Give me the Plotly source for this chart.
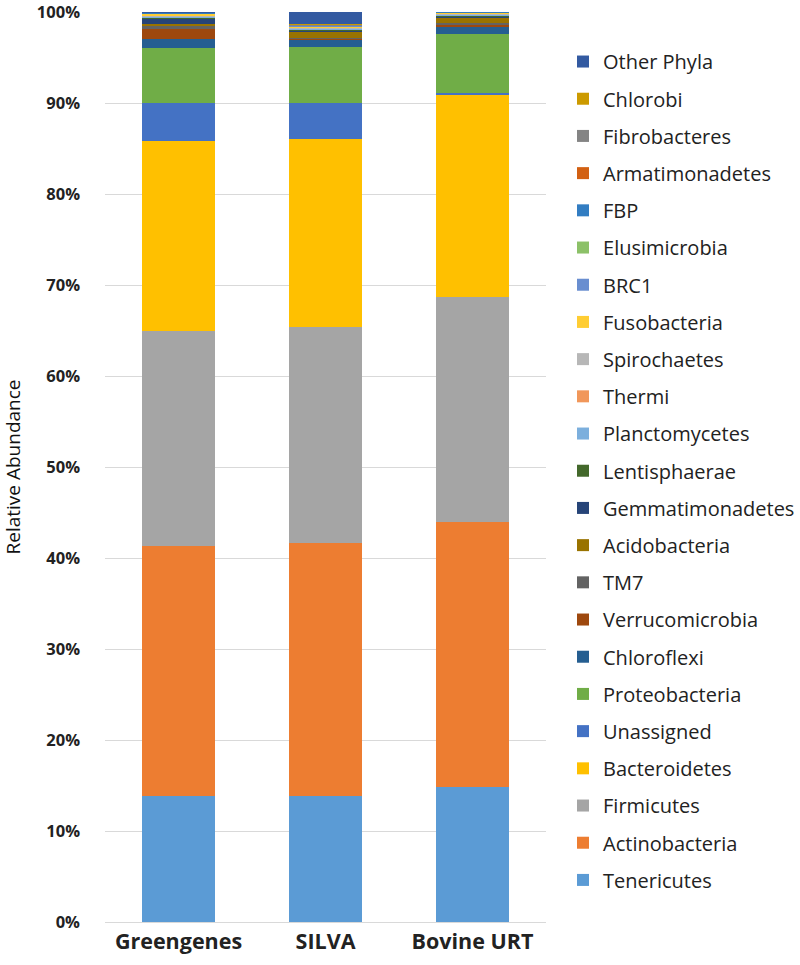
import plotly.graph_objects as go

categories = ["Greengenes", "SILVA", "Bovine URT"]

phyla = ["Tenericutes", "Actinobacteria", "Firmicutes", "Bacteroidetes", "Unassigned",
         "Proteobacteria", "Chloroflexi", "Verrucomicrobia", "TM7", "Acidobacteria",
         "Gemmatimonadetes", "Lentisphaerae", "Planctomycetes", "Thermi", "Spirochaetes",
         "Fusobacteria", "BRC1", "Elusimicrobia", "FBP", "Armatimonadetes",
         "Fibrobacteres", "Chlorobi", "Other Phyla"]

greengenes = [13.8, 27.5, 23.7, 20.8, 4.15, 6.1, 0.95, 1.15, 0.4, 0.15,
              0.55, 0.18, 0.05, 0.05, 0.08, 0.2, 0.03, 0.03, 0.03, 0.03,
              0.03, 0.03, 0.15]
silva = [13.8, 27.8, 23.75, 20.65, 4.05, 6.1, 0.85, 0.05, 0.05, 0.75,
         0.1, 0.15, 0.05, 0.05, 0.1, 0.15, 0.03, 0.03, 0.03, 0.03,
         0.03, 0.03, 1.57]
bovine_urt = [14.8, 29.2, 24.7, 22.2, 0.25, 6.4, 0.75, 0.3, 0.15, 0.6,
              0.15, 0.15, 0.05, 0.05, 0.05, 0.15, 0.02, 0.02, 0.02, 0.02,
              0.02, 0.02, 0.02]

colors = ["#5B9BD5", "#ED7D31", "#A5A5A5", "#FFC000", "#4472C4",
          "#70AD47", "#255E91", "#9E480E", "#636363", "#997300",
          "#264478", "#43682B", "#7CAFDD", "#F1975A", "#B7B7B7",
          "#FFCD33", "#698ED0", "#8CC168", "#327DC2", "#D26012",
          "#848484", "#CC9A00", "#335AA1"]

fig = go.Figure()
n = len(phyla)
for i, name in enumerate(phyla):
    fig.add_trace(go.Bar(
        x=categories,
        y=[greengenes[i] / 100, silva[i] / 100, bovine_urt[i] / 100],
        name=name,
        marker=dict(color=colors[i], line=dict(width=0)),
        legendgroup=name,
        legendrank=n - i,
    ))

fig.update_layout(
    barmode="stack",
    bargap=0.5,
    width=800, height=965,
    margin=dict(l=105, r=254, t=12, b=43, autoexpand=False),
    plot_bgcolor="white", paper_bgcolor="white",
    showlegend=True,
    legend=dict(
        traceorder="grouped",
        tracegroupgap=8.2,
        x=1.0386, xanchor="left",
        y=0.967, yanchor="top",
        font=dict(family="Open Sans", size=20, color="#222222"),
        itemwidth=30,
    ),
    yaxis=dict(
        range=[0, 1],
        tickvals=[i / 10 for i in range(11)],
        tickformat=".0%",
        showgrid=True, gridcolor="#D9D9D9", gridwidth=1,
        zeroline=False,
        showline=False,
        ticks="",
        ticklabelstandoff=24,
        ticklabeloverflow="allow",
        automargin=False,
        tickfont=dict(family="Open Sans", size=16.5, color="#222222", weight="bold"),
        title=dict(text="Relative Abundance", standoff=20,
                   font=dict(family="Open Sans", size=19, color="#111111")),
    ),
    xaxis=dict(
        showline=True, linecolor="#D9D9D9",
        ticks="",
        automargin=False,
        tickfont=dict(family="Open Sans", size=21.5, color="#222222", weight="bold"),
    ),
)

fig.write_html("out.html", config={"displayModeBar": False},
               post_script="document.body.style.margin='0';")
